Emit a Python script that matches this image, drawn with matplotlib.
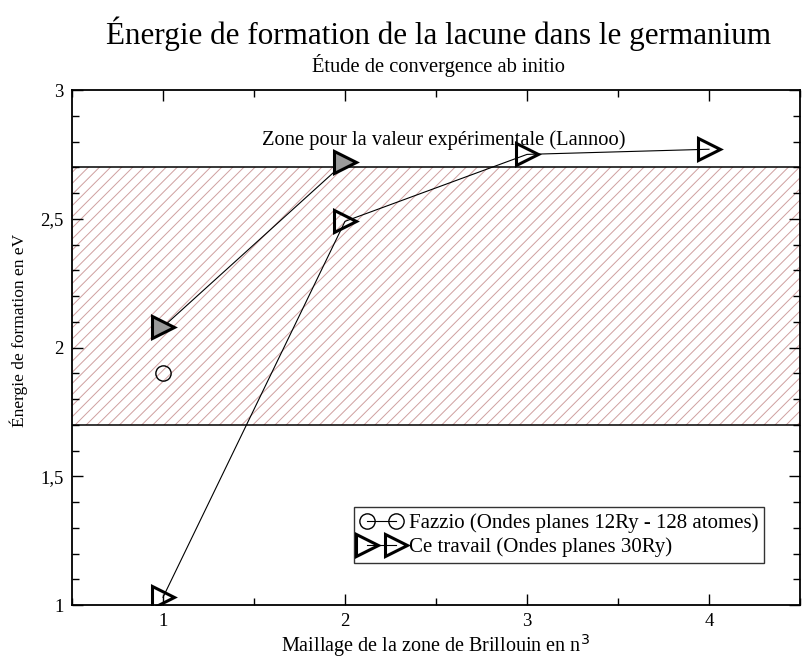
import matplotlib
matplotlib.use("Agg")
import matplotlib.pyplot as plt
from matplotlib.ticker import MultipleLocator, FuncFormatter

# data
fazzio_x = [1]
fazzio_y = [1.90]
travail_x = [1, 2, 3, 4]
travail_y = [1.03, 2.49, 2.75, 2.77]
travail2_x = [1, 2]
travail2_y = [2.08, 2.72]
zone_bas, zone_haut = 1.7, 2.7

plt.rcParams["font.family"] = ["Liberation Serif", "DejaVu Serif"]
plt.rcParams["hatch.linewidth"] = 0.7
plt.rcParams["hatch.color"] = "#cf9f9f"

fig = plt.figure(figsize=(8.02, 6.59), dpi=100)
ax = fig.add_axes([0.0898, 0.0819, 0.9077, 0.7815])

# experimental zone (hatched band)
ax.fill_between([0.5, 4.5], zone_bas, zone_haut, facecolor="none",
                edgecolor="#cf9f9f", hatch="///", linewidth=0)
ax.axhline(zone_bas, color="black", lw=1.1)
ax.axhline(zone_haut, color="black", lw=1.1)
ax.text(2.54, 2.806, "Zone pour la valeur expérimentale (Lannoo)",
        ha="center", va="center", fontsize=14.8)

ax.plot(fazzio_x, fazzio_y, "-o", color="black", mfc="none", ms=11, mew=1.0,
        lw=0.8, label="Fazzio (Ondes planes 12Ry - 128 atomes)")
ax.plot(travail_x, travail_y, "->", color="black", mfc="none", ms=16, mew=2.2,
        lw=0.8, label="Ce travail (Ondes planes 30Ry)")
ax.plot(travail2_x, travail2_y, "->", color="black", mfc="#9a9a9a", ms=16,
        mew=2.2, lw=0.8)

ax.set_xlim(0.5, 4.5)
ax.set_ylim(1, 3)
ax.xaxis.set_major_locator(MultipleLocator(1))
ax.xaxis.set_minor_locator(MultipleLocator(0.5))
ax.yaxis.set_major_locator(MultipleLocator(0.5))
ax.yaxis.set_minor_locator(MultipleLocator(0.1))
ax.yaxis.set_major_formatter(FuncFormatter(lambda v, p: ("%g" % v).replace(".", ",")))
ax.tick_params(which="both", direction="in", top=True, right=True, labelsize=13.5, width=1.0)
ax.tick_params(which="major", length=8, pad=6)
ax.tick_params(which="minor", length=5)
for s in ax.spines.values():
    s.set_linewidth(1.3)

ax.set_xlabel("Maillage de la zone de Brillouin en n$^3$", fontsize=14.5, va="baseline")
ax.xaxis.set_label_coords(0.5, -0.0913)
ax.set_ylabel("Énergie de formation en eV", fontsize=12.5)
ax.yaxis.set_label_coords(-0.061, 0.534)

fig.text(0.547, 0.949, "Énergie de formation de la lacune dans le germanium",
         ha="center", va="center", fontsize=22.4)
fig.text(0.547, 0.901, "Étude de convergence ab initio",
         ha="center", va="center", fontsize=14.8)

leg = ax.legend(loc="lower right", bbox_to_anchor=(0.951, 0.081), numpoints=2,
                fontsize=15, frameon=True, fancybox=False, edgecolor="black",
                handlelength=2.0, handletextpad=0.3, borderpad=0.3,
                labelspacing=0.2, borderaxespad=0)
leg.get_frame().set_linewidth(1.0)

fig.savefig("out.png", dpi=100)
